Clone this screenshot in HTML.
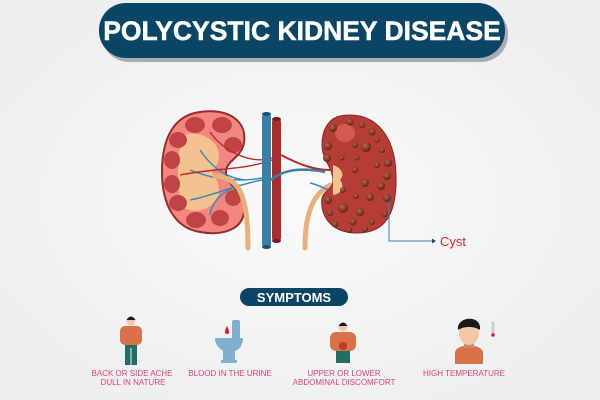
<!DOCTYPE html>
<html><head><meta charset="utf-8"><style>
html,body{margin:0;padding:0;width:600px;height:400px;overflow:hidden;background:#f1f2f3;}
svg{display:block}
</style></head><body>
<svg width="600" height="400" viewBox="0 0 600 400" xmlns="http://www.w3.org/2000/svg">
<defs>
<radialGradient id="bg" cx="50%" cy="50%" r="60%"><stop offset="0" stop-color="#fafafb"/><stop offset="1" stop-color="#eceef0"/></radialGradient>
<radialGradient id="cy" cx="40%" cy="35%" r="60%"><stop offset="0" stop-color="#b5684a"/><stop offset="1" stop-color="#6b2418"/></radialGradient>
<pattern id="hat" width="3" height="3" patternUnits="userSpaceOnUse"><rect width="3" height="3" fill="#c9484a"/><path d="M0 3L3 0" stroke="#b03a3d" stroke-width="0.8"/></pattern>
</defs>
<rect width="600" height="400" fill="url(#bg)"/>
<!-- title -->
<rect x="102" y="7" width="406" height="55" rx="27" fill="#a9adb1"/>
<rect x="99" y="3" width="406" height="55" rx="27" fill="#0b4565"/>
<text x="302" y="40" text-anchor="middle" font-family="Liberation Sans, sans-serif" font-weight="bold" font-size="26.5" fill="#fff" stroke="#fff" stroke-width="0.5">POLYCYSTIC KIDNEY DISEASE</text>

<!-- left kidney -->
<path d="M200 112 C230 108 247 122 244 142 C242 158 226 160 226 172 C226 186 246 192 244 212 C242 230 222 236 200 232 C175 228 162 205 162 172 C162 135 176 115 200 112Z" fill="#f2877f" stroke="#9a2a2a" stroke-width="2"/>
<path d="M184 135 C196 130 215 138 218 150 C222 162 212 172 212 172 C212 172 222 184 218 196 C212 210 196 214 184 208 C176 195 176 150 184 135Z" fill="#f3c28f"/>
<g fill="url(#hat)">
<ellipse cx="195" cy="125" rx="10" ry="8"/><ellipse cx="222" cy="125" rx="10" ry="8"/>
<ellipse cx="233" cy="145" rx="9" ry="8"/><ellipse cx="178" cy="140" rx="9" ry="8"/>
<ellipse cx="172" cy="160" rx="8" ry="9"/><ellipse cx="172" cy="184" rx="8" ry="9"/>
<ellipse cx="178" cy="203" rx="9" ry="8"/><ellipse cx="196" cy="220" rx="10" ry="8"/>
<ellipse cx="220" cy="218" rx="9" ry="8"/><ellipse cx="233" cy="198" rx="8" ry="8"/>
</g>
<g fill="none" stroke="#3a87b5" stroke-width="1.4">
<path d="M262 178 C240 182 215 180 190 170"/><path d="M262 180 C235 185 215 195 190 200"/>
<path d="M200 150 C210 165 225 178 245 180"/><path d="M210 215 C212 200 225 190 240 185"/>
</g>
<g fill="none" stroke="#b52b2b" stroke-width="1.4">
<path d="M272 160 C245 170 215 168 180 175"/><path d="M272 158 C250 165 222 150 210 132"/>
</g>
<path d="M215 176 C240 178 248 195 248 248" fill="none" stroke="#e8b07a" stroke-width="5" stroke-linecap="round"/>
<!-- vessels -->
<rect x="262" y="113" width="9" height="135" rx="4" fill="#3a7fa6"/>
<ellipse cx="266.5" cy="114" rx="4.5" ry="2" fill="#1e4f70"/><ellipse cx="266.5" cy="247" rx="4.5" ry="2" fill="#1e4f70"/>
<rect x="272" y="118" width="9" height="124" rx="4" fill="#ad2b2b"/>
<ellipse cx="276.5" cy="119" rx="4.5" ry="2" fill="#7a1a1a"/><ellipse cx="276.5" cy="241" rx="4.5" ry="2" fill="#7a1a1a"/>
<path d="M281 155 C300 165 315 170 330 170" fill="none" stroke="#b52b2b" stroke-width="2"/>
<path d="M271 180 C285 168 305 168 325 172" fill="none" stroke="#3a7fa6" stroke-width="2.5"/>
<path d="M305 248 C305 215 312 195 330 185" fill="none" stroke="#e8b07a" stroke-width="5" stroke-linecap="round"/>
<path d="M310 183 C320 185 326 190 330 190" fill="none" stroke="#3a87b5" stroke-width="1.5"/>
<!-- right kidney -->
<path d="M340 116 C370 110 395 130 396 175 C397 215 385 234 355 233 C330 232 320 215 322 198 C324 190 333 190 333 180 C333 168 322 160 322 145 C322 128 330 118 340 116Z" fill="#b63c36" stroke="#8a2424" stroke-width="1"/>
<ellipse cx="345" cy="133" rx="10" ry="9" fill="#d9625a" opacity="0.8"/>
<path d="M333 165 C342 168 345 175 340 180 C345 186 342 194 333 195 Z" fill="#f3c28f"/>
<g fill="url(#cy)">
<circle cx="333" cy="128" r="4"/><circle cx="350" cy="122" r="3.5"/><circle cx="362" cy="125" r="3"/><circle cx="372" cy="132" r="3.5"/>
<circle cx="366" cy="147" r="5"/><circle cx="355" cy="145" r="3"/><circle cx="328" cy="146" r="4"/><circle cx="327" cy="158" r="4"/>
<circle cx="382" cy="150" r="3"/><circle cx="388" cy="163" r="4"/><circle cx="387" cy="176" r="4"/><circle cx="377" cy="165" r="3"/>
<circle cx="365" cy="183" r="4"/><circle cx="355" cy="170" r="3"/><circle cx="381" cy="186" r="4"/><circle cx="370" cy="197" r="4"/>
<circle cx="387" cy="198" r="4"/><circle cx="328" cy="200" r="4"/><circle cx="343" cy="208" r="5"/><circle cx="330" cy="213" r="3"/>
<circle cx="360" cy="212" r="4"/><circle cx="353" cy="222" r="3.5"/><circle cx="335" cy="224" r="3.5"/><circle cx="372" cy="222" r="3"/>
<circle cx="385" cy="214" r="3"/><circle cx="343" cy="190" r="3"/><circle cx="356" cy="196" r="3"/><circle cx="349" cy="230" r="3"/>
<circle cx="365" cy="229" r="3"/><circle cx="342" cy="158" r="2.5"/><circle cx="377" cy="140" r="2.5"/><circle cx="357" cy="158" r="2.5"/>
</g>
<circle cx="389" cy="200" r="1.8" fill="#1e4f70"/>
<path d="M389 202 V241 H432" fill="none" stroke="#3a7fa6" stroke-width="1"/>
<path d="M432 238.5 L436 241 L432 243.5Z" fill="#1e4f70"/>
<text x="440" y="246" font-family="Liberation Sans, sans-serif" font-size="13" fill="#d12a2a">Cyst</text>

<!-- symptoms -->
<rect x="240" y="288" width="108" height="18" rx="9" fill="#0b4565"/>
<text x="294" y="302" text-anchor="middle" font-family="Liberation Sans, sans-serif" font-weight="bold" font-size="13" fill="#fff">SYMPTOMS</text>
<!-- man 1 -->
<g><circle cx="131" cy="321" r="4.5" fill="#f5c6a5"/><path d="M126.5 320 Q131 313 135.5 320Z" fill="#1a1a1a"/>
<rect x="120" y="326" width="22" height="19" rx="5" fill="#d9714a"/><rect x="125" y="345" width="12" height="20" fill="#1f6f63"/><rect x="130.5" y="348" width="1" height="17" fill="#f1f2f3"/></g>
<!-- toilet -->
<g fill="#7fb0cf"><rect x="232" y="320" width="8" height="22" rx="2"/><path d="M215 338 H243 C243 348 236 352 230 352 H226 C220 350 215 345 215 338Z"/><rect x="223" y="351" width="12" height="10"/><rect x="221" y="360" width="16" height="3"/></g>
<path d="M227 326 Q229 330 229 332 A2 2 0 0 1 225 332 Q225 330 227 326Z" fill="#d81b2a"/>
<!-- man 3 -->
<g><circle cx="343" cy="327" r="4.5" fill="#f5c6a5"/><path d="M338.5 326 Q343 319 347.5 326Z" fill="#1a1a1a"/>
<rect x="330" y="332" width="26" height="19" rx="6" fill="#d9714a"/><circle cx="343" cy="346" r="4" fill="#c0392b"/><rect x="336" y="351" width="14" height="12" fill="#1f6f63"/></g>
<!-- face -->
<g><path d="M455 353 C455 343 483 343 483 353 V364 H455Z" fill="#d9714a"/><rect x="464" y="340" width="10" height="8" fill="#c98a72"/>
<ellipse cx="469" cy="333" rx="10" ry="12" fill="#f5c6a5"/><path d="M458 330 C456 316 482 314 480 330 C474 326 464 326 458 330Z" fill="#1a1a1a"/>
<rect x="492" y="322" width="2" height="12" fill="#ddd" stroke="#999" stroke-width="0.4"/><circle cx="493" cy="335" r="1.8" fill="#d81b2a"/></g>
<g font-family="Liberation Sans, sans-serif" font-size="8" fill="#e0437a" text-anchor="middle">
<text x="132" y="376">BACK OR SIDE ACHE</text><text x="133" y="385">DULL IN NATURE</text>
<text x="230" y="376">BLOOD IN THE URINE</text>
<text x="344" y="376">UPPER OR LOWER</text><text x="344" y="385">ABDOMINAL DISCOMFORT</text>
<text x="464" y="376">HIGH TEMPERATURE</text>
</g>
</svg>
</body></html>
